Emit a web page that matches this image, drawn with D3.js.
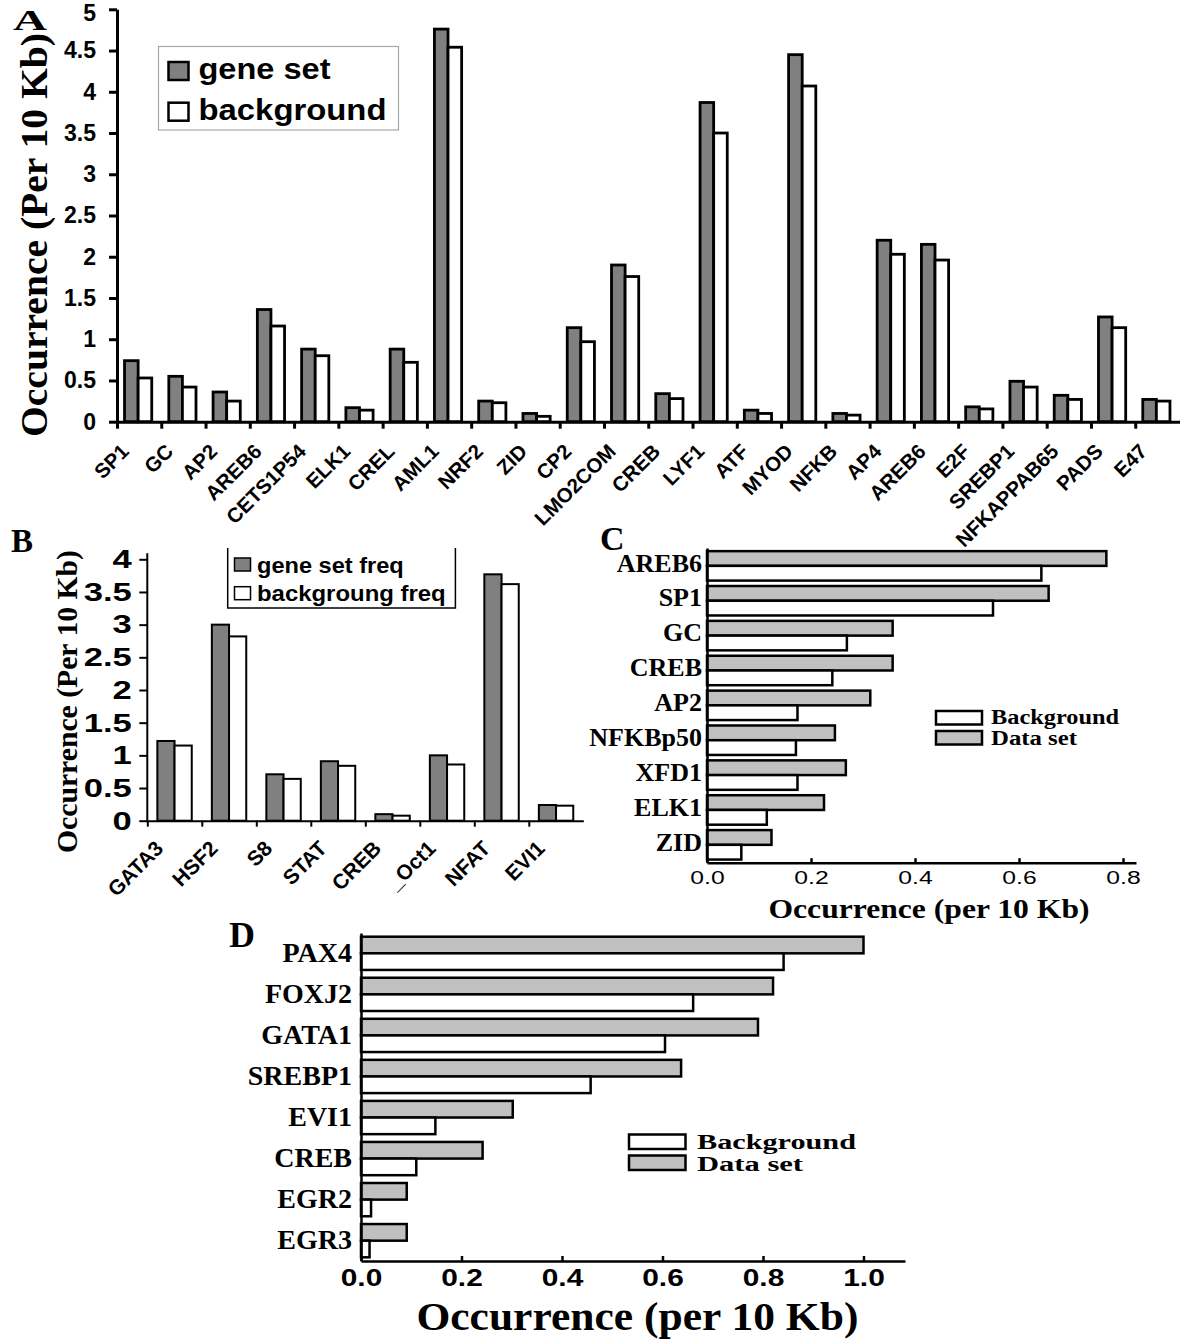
<!DOCTYPE html>
<html><head><meta charset="utf-8">
<script src="https://cdn.jsdelivr.net/npm/d3@7"></script>
<style>body{margin:0;background:#fff}svg{display:block}</style>
</head><body>
<svg id="c" width="1200" height="1341"></svg>
<script>
// ---------- DATA ----------
const catsA = ["SP1","GC","AP2","AREB6","CETS1P54","ELK1","CREL","AML1","NRF2","ZID","CP2","LMO2COM","CREB","LYF1","ATF","MYOD","NFKB","AP4","AREB6","E2F","SREBP1","NFKAPPAB65","PADS","E47"];
const geneA = [0.74,0.55,0.36,1.36,0.88,0.17,0.88,4.76,0.25,0.10,1.14,1.90,0.34,3.87,0.14,4.45,0.10,2.20,2.15,0.18,0.49,0.32,1.27,0.27];
const bgA   = [0.53,0.42,0.25,1.16,0.80,0.14,0.72,4.54,0.23,0.065,0.97,1.76,0.28,3.50,0.10,4.07,0.08,2.03,1.96,0.155,0.42,0.27,1.14,0.25];
const ticksA = [0,0.5,1,1.5,2,2.5,3,3.5,4,4.5,5];
const legendA = ["gene set","background"];

const catsB = ["GATA3","HSF2","S8","STAT","CREB","_Oct1","NFAT","EVI1"];
const geneB = [1.22,3.00,0.71,0.91,0.10,1.00,3.77,0.24];
const bgB   = [1.15,2.82,0.64,0.84,0.077,0.86,3.62,0.23];
const ticksB = [0,0.5,1,1.5,2,2.5,3,3.5,4];
const legendB = ["gene set freq","backgroung freq"];

const catsC = ["AREB6","SP1","GC","CREB","AP2","NFKBp50","XFD1","ELK1","ZID"];
const dataC = [0.768,0.657,0.357,0.357,0.314,0.246,0.267,0.225,0.124];
const bgC   = [0.643,0.550,0.269,0.241,0.174,0.171,0.174,0.115,0.066];
const ticksC = [0,0.2,0.4,0.6,0.8];

const catsD = ["PAX4","FOXJ2","GATA1","SREBP1","EVI1","CREB","EGR2","EGR3"];
const dataD = [1.00,0.82,0.79,0.637,0.302,0.242,0.091,0.091];
const bgD   = [0.841,0.661,0.605,0.457,0.148,0.110,0.020,0.017];
const ticksD = [0,0.2,0.4,0.6,0.8,1.0];
const legendCD = ["Background","Data set"];

// ---------- HELPERS ----------
const SANS = "'Liberation Sans', Arial, sans-serif";
const SERIF = "'Liberation Serif', 'Times New Roman', serif";
const svg = d3.select("#c");
function styleAxis(g, w){
  g.selectAll("path,line").attr("stroke","#000").attr("stroke-width",w);
}

// ================= PANEL A =================
(function(){
  const g = svg.append("g");
  const x0 = 117, x1 = 1179.5;
  const xA = d3.scaleBand().domain(d3.range(catsA.length)).range([x0,x1]);
  const xB = d3.scaleLinear().domain([0,catsA.length]).range([x0,x1]);
  const y = d3.scaleLinear().domain([0,5]).range([421.7,9.3]);
  const bw = 13.6, st = xA.step();
  g.selectAll(".ga").data(geneA).join("rect")
    .attr("x",(d,i)=>xA(i)+st/2-1-bw).attr("y",d=>y(d))
    .attr("width",bw).attr("height",d=>y(0)-y(d))
    .attr("fill","#808080").attr("stroke","#000").attr("stroke-width",2.8);
  g.selectAll(".ba").data(bgA).join("rect")
    .attr("x",(d,i)=>xA(i)+st/2-1).attr("y",d=>y(d))
    .attr("width",bw).attr("height",d=>y(0)-y(d))
    .attr("fill","#fff").attr("stroke","#000").attr("stroke-width",2.8);
  const ax = g.append("g").attr("transform",`translate(0,${y(0)})`)
    .call(d3.axisBottom(xB).tickValues(d3.range(catsA.length)).tickFormat("").tickSize(7).tickSizeOuter(0));
  styleAxis(ax,3);
  const ay = g.append("g").attr("transform",`translate(${x0},0)`)
    .call(d3.axisLeft(y).tickValues(ticksA).tickFormat(d=>String(d)).tickSize(8).tickPadding(13).tickSizeOuter(0));
  styleAxis(ay,3);
  ay.attr("font-size",23).attr("font-family",SANS).attr("font-weight","bold");
  ay.selectAll("text").attr("fill","#000").attr("dy",d=>d===5?"0.5em":"0.32em");
  g.selectAll(".xl").data(catsA).join("text")
    .attr("transform",(d,i)=>`translate(${xA(i)+st/2-9},${y(0)+31}) rotate(-45)`)
    .attr("text-anchor","end").attr("font-family",SANS).attr("font-weight","bold")
    .attr("font-size",20.5).text(d=>d);
  // y title
  g.append("text").attr("transform","translate(47,235) rotate(-90)")
    .attr("text-anchor","middle").attr("font-family",SERIF).attr("font-weight","bold")
    .attr("font-size",37).attr("textLength",404).attr("lengthAdjust","spacingAndGlyphs")
    .text("Occurrence (Per 10 Kb)");
  // panel letter
  g.append("text").attr("x",13).attr("y",30).attr("font-family",SERIF).attr("font-weight","bold")
    .attr("font-size",30).attr("textLength",34).attr("lengthAdjust","spacingAndGlyphs").text("A");
  // legend
  g.append("rect").attr("x",158.5).attr("y",46.5).attr("width",240).attr("height",83.5)
    .attr("fill","#fff").attr("stroke","#a8a8a8").attr("stroke-width",1.2);
  const ly = [61,101.7], lb = [79,120], lw=[132,188];
  legendA.forEach((t,i)=>{
    g.append("rect").attr("x",168.5).attr("y",ly[i]+1).attr("width",20).attr("height",18)
      .attr("fill",i===0?"#808080":"#fff").attr("stroke","#000").attr("stroke-width",2.5);
    g.append("text").attr("x",198.5).attr("y",lb[i]).attr("font-family",SANS).attr("font-weight","bold")
      .attr("font-size",30).attr("textLength",lw[i]).attr("lengthAdjust","spacingAndGlyphs").text(t);
  });
})();

// ================= PANEL B =================
(function(){
  const g = svg.append("g");
  const x0 = 147.3, step = 54.5, n = catsB.length, x1 = x0+step*n;
  const xA = d3.scaleBand().domain(d3.range(n)).range([x0,x1]);
  const xB = d3.scaleLinear().domain([0,n]).range([x0,x1]);
  const y = d3.scaleLinear().domain([0,4]).range([820.7,559.3]);
  const bw = 17.2, st = xA.step();
  g.selectAll(".gb").data(geneB).join("rect")
    .attr("x",(d,i)=>xA(i)+st/2-bw).attr("y",d=>y(d))
    .attr("width",bw).attr("height",d=>y(0)-y(d))
    .attr("fill","#808080").attr("stroke","#000").attr("stroke-width",2);
  g.selectAll(".bb").data(bgB).join("rect")
    .attr("x",(d,i)=>xA(i)+st/2).attr("y",d=>y(d))
    .attr("width",bw).attr("height",d=>y(0)-y(d))
    .attr("fill","#fff").attr("stroke","#000").attr("stroke-width",2);
  const ax = g.append("g").attr("transform",`translate(0,${y(0)})`)
    .call(d3.axisBottom(xB).tickValues(d3.range(n)).tickFormat("").tickSize(6).tickSizeOuter(0));
  styleAxis(ax,2);
  const ay = g.append("g").attr("transform",`translate(${x0},0)`)
    .call(d3.axisLeft(y).tickValues(ticksB).tickFormat(d=>String(d)).tickSize(8).tickPadding(8).tickSizeOuter(0));
  styleAxis(ay,2);
  ay.select(".domain").attr("d",`M0,${y(4)-6}V${y(0)}`);
  ay.attr("font-size",26).attr("font-family",SANS).attr("font-weight","bold");
  ay.selectAll("text").attr("fill","#000").attr("x",-15.5/1.33).attr("transform","scale(1.33,1)");
  g.selectAll(".xl").data(catsB).join("text")
    .attr("transform",(d,i)=>`translate(${xA(i)+st/2-10},${y(0)+29}) rotate(-45)`)
    .attr("text-anchor","end").attr("font-family",SANS).attr("font-weight","bold")
    .attr("font-size",21).text(d=>d);
  g.append("text").attr("transform","translate(77,701.5) rotate(-90)")
    .attr("text-anchor","middle").attr("font-family",SERIF).attr("font-weight","bold")
    .attr("font-size",30).attr("textLength",303).attr("lengthAdjust","spacingAndGlyphs")
    .text("Occurrence (Per 10 Kb)");
  g.append("text").attr("x",11).attr("y",552).attr("font-family",SERIF).attr("font-weight","bold")
    .attr("font-size",33).text("B");
  // legend (three sides)
  g.append("path").attr("d","M227.7,548V608H455.4V548").attr("fill","none")
    .attr("stroke","#000").attr("stroke-width",1.5);
  const ly=[558,586.7], lb=[573,601], lw=[146.7,188.7];
  legendB.forEach((t,i)=>{
    g.append("rect").attr("x",234.5).attr("y",ly[i]).attr("width",16).attr("height",13)
      .attr("fill",i===0?"#808080":"#fff").attr("stroke","#000").attr("stroke-width",1.5);
    g.append("text").attr("x",257).attr("y",lb[i]).attr("font-family",SANS).attr("font-weight","bold")
      .attr("font-size",22).attr("textLength",lw[i]).attr("lengthAdjust","spacingAndGlyphs").text(t);
  });
})();

// ================= PANELS C & D (horizontal) =================
function hPanel(o){
  const g = svg.append("g");
  const x = d3.scaleLinear().domain([0,o.xmax]).range([o.x0,o.x1]);
  const y = d3.scaleBand().domain(o.cats).range([o.yTop,o.yAxis])
    .paddingInner(o.pi).paddingOuter(o.po);
  const h = y.bandwidth()/2;
  g.selectAll(".d").data(o.data).join("rect")
    .attr("x",x(0)).attr("y",(d,i)=>y(o.cats[i]))
    .attr("width",d=>x(d)-x(0)).attr("height",h)
    .attr("fill","#c0c0c0").attr("stroke","#000").attr("stroke-width",o.sw);
  g.selectAll(".b").data(o.bg).join("rect")
    .attr("x",x(0)).attr("y",(d,i)=>y(o.cats[i])+h)
    .attr("width",d=>x(d)-x(0)).attr("height",h)
    .attr("fill","#fff").attr("stroke","#000").attr("stroke-width",o.sw);
  const ax = g.append("g").attr("transform",`translate(0,${o.yAxis})`)
    .call(d3.axisBottom(x).tickValues(o.ticks).tickFormat(d3.format(".1f"))
      .tickSizeInner(-o.tick).tickSizeOuter(0).tickPadding(o.tickPad));
  styleAxis(ax,o.aw);
  ax.attr("font-size",o.tfs).attr("font-family",SANS).attr("font-weight",o.tfw);
  ax.selectAll("text").attr("fill","#000").attr("transform",`scale(${o.tsx},1)`);
  const ay = g.append("g").attr("transform",`translate(${o.x0},0)`)
    .call(d3.axisLeft(y).tickSize(0).tickPadding(o.lpad).tickSizeOuter(0));
  styleAxis(ay,o.aw);
  ay.attr("font-size",o.lfs).attr("font-family",SERIF).attr("font-weight","bold");
  ay.selectAll("text").attr("fill","#000").attr("dy",o.ldy);
  g.append("text").attr("x",o.titleX).attr("y",o.titleY).attr("text-anchor","middle")
    .attr("font-family",SERIF).attr("font-weight","bold").attr("font-size",o.titleFs)
    .attr("textLength",o.titleLen).attr("lengthAdjust","spacingAndGlyphs")
    .text("Occurrence (per 10 Kb)");
  g.append("text").attr("x",o.letterX).attr("y",o.letterY).attr("font-family",SERIF)
    .attr("font-weight","bold").attr("font-size",o.letterFs).text(o.letter);
  legendCD.forEach((t,i)=>{
    g.append("rect").attr("x",o.lgX).attr("y",o.lgY[i]).attr("width",o.lgW).attr("height",o.lgH)
      .attr("fill",i===0?"#fff":"#c0c0c0").attr("stroke","#000").attr("stroke-width",o.sw);
    g.append("text").attr("x",o.lgTx).attr("y",o.lgB[i]).attr("font-family",SERIF)
      .attr("font-weight","bold").attr("font-size",o.lgFs)
      .attr("textLength",o.lgLen[i]).attr("lengthAdjust","spacingAndGlyphs").text(t);
  });
}

hPanel({cats:catsC,data:dataC,bg:bgC,ticks:ticksC,
  xmax:0.825,x0:707,x1:707+0.825*520,yTop:548,yAxis:862.7,pi:0.155,po:0.09,sw:2.5,aw:2.5,
  tick:4.5,tickPad:8,tfs:19,tfw:"normal",tsx:1.3,lfs:26,lpad:5,ldy:"0.22em",
  titleX:929,titleY:918,titleFs:28,titleLen:321,
  letter:"C",letterX:600,letterY:550,letterFs:34,
  lgX:936,lgY:[711,731],lgW:46,lgH:13.5,lgTx:991,lgB:[724,745],lgFs:20,lgLen:[128,86]});

hPanel({cats:catsD,data:dataD,bg:bgD,ticks:ticksD,
  xmax:1.0826,x0:361,x1:905,yTop:933,yAxis:1261,pi:0.19,po:0.09,sw:2.5,aw:2.5,
  tick:5,tickPad:9,tfs:23,tfw:"bold",tsx:1.3,lfs:28,lpad:9,ldy:"0.3em",
  titleX:637.4,titleY:1330,titleFs:40,titleLen:442,
  letter:"D",letterX:229,letterY:947,letterFs:36,
  lgX:629,lgY:[1134.5,1155.5],lgW:56.5,lgH:14.5,lgTx:697,lgB:[1148.5,1171],lgFs:20,lgLen:[159,106]});
</script>
</body></html>
